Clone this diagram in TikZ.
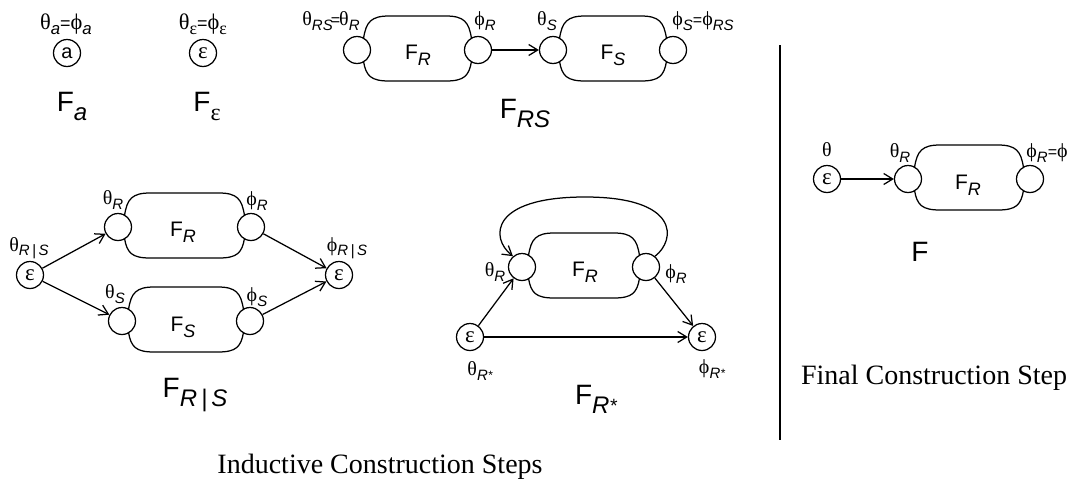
\documentclass[tikz,border=0pt]{standalone}
\usepackage{fontspec}
\setmainfont{Liberation Sans}
\newfontfamily\grk{Liberation Serif}
\newfontfamily\serif{Liberation Serif}
\usetikzlibrary{arrows.meta}
\newcommand\gk[1]{{\grk\fontsize{20}{22}\selectfont #1}}
\newcommand\sbs[1]{\raisebox{-4.5pt}{\fontsize{15}{17}\selectfont\itshape #1}}
\newcommand\sbg[1]{\raisebox{-4.5pt}{\grk\fontsize{16}{17}\selectfont #1}}
\newcommand\eqs{{\fontsize{16}{16}\selectfont =}}
\newcommand\capF[1]{{\fontsize{28}{30}\selectfont F\raisebox{-9pt}{\fontsize{24}{26}\selectfont\itshape #1}}}
\newcommand\blobF[1]{{\fontsize{21}{22}\selectfont F\raisebox{-6pt}{\fontsize{18}{20}\selectfont\itshape #1}}}
\newcommand\rstar{R\raisebox{1pt}{\scalebox{0.8}{*}}}
\newcommand\blob[3]{%
  \draw[ln] ({#1+6.5},{#3-11.3}) .. controls ({#1+9},{#3-28}) and ({#1+14},{#3-34}) .. ({#1+32},{#3-34})
    -- ({#2-32},{#3-34}) .. controls ({#2-14},{#3-34}) and ({#2-9},{#3-28}) .. ({#2-6.5},{#3-11.3});
  \draw[ln] ({#1+6.5},{#3+11.3}) .. controls ({#1+9},{#3+26}) and ({#1+14},{#3+31}) .. ({#1+32},{#3+31})
    -- ({#2-32},{#3+31}) .. controls ({#2-14},{#3+31}) and ({#2-9},{#3+26}) .. ({#2-6.5},{#3+11.3});
}
\tikzset{
  ln/.style={line width=1.25pt},
  st/.style={circle, draw, line width=1.25pt, minimum size=27pt, inner sep=0pt},
  arr/.style={ln, -{Straight Barb[length=9pt,width=11pt]}},
  lbl/.style={inner sep=0pt},
  eps/.style={font=\grk\fontsize{23}{23}\selectfont},
  captext/.style={inner sep=0pt, font=\serif\fontsize{28}{30}\selectfont},
}
\begin{document}
\begin{tikzpicture}[x=1pt,y=-1pt]
\useasboundingbox (0,0) rectangle (1075,493);

% F_a
\node[st] (A) at (67,53) {\fontsize{20}{20}\selectfont a};
\node[lbl, scale=1.12] (lA) at (66,24) {\gk{θ}\sbs{a}\eqs\gk{ϕ}\sbs{a}};
\node[lbl] (cA) at (72,106) {\capF{a}};

% F_eps
\node[st,eps] (B) at (203,53) {ε};
\node[lbl, scale=1.12] (lB) at (203,24) {\gk{θ}\sbg{ε}\eqs\gk{ϕ}\sbg{ε}};
\node[lbl] (cB) at (207,106) {{\fontsize{28}{30}\selectfont F\raisebox{-9pt}{\grk\fontsize{24}{26}\selectfont ε}}};

% F_RS
\node[st] (TR1) at (357,50) {};
\node[st] (PR1) at (478,50) {};
\node[st] (TS1) at (553,50) {};
\node[st] (PS1) at (673,50) {};
\blob{357}{478}{50}
\blob{553}{673}{50}
\node[lbl] (fR1) at (418,55) {\blobF{R}};
\node[lbl] (fS1) at (613,55) {\blobF{S}};
\node[lbl] (l1) at (331,21) {\gk{θ}\sbs{RS}\kern-2pt\eqs\kern-1pt\gk{θ}\sbs{R}};
\node[lbl] (l2) at (485,21) {\gk{ϕ}\sbs{R}};
\node[lbl] (l3) at (547,21) {\gk{θ}\sbs{S}};
\node[lbl] (l4) at (703,21) {\gk{ϕ}\sbs{S}\eqs\gk{ϕ}\sbs{RS}};
\draw[arr] (PR1) -- (TS1);
\node[lbl] (cRS) at (525,113) {\capF{RS}};

% F_R|S
\node[st,eps] (E1) at (30,275) {ε};
\node[st] (TR2) at (118,227) {};
\node[st] (PR2) at (251,227) {};
\node[st] (TS2) at (122,321) {};
\node[st] (PS2) at (250,321) {};
\node[st,eps] (E2) at (339,275) {ε};
\blob{118}{251}{227}
\blob{122}{250}{321}
\node[lbl] (fR2) at (183,232) {\blobF{R}};
\node[lbl] (fS2) at (183,327) {\blobF{S}};
\node[lbl] (m1) at (113,200) {\gk{θ}\sbs{R}};
\node[lbl] (m2) at (257,201) {\gk{ϕ}\sbs{R}};
\node[lbl] (m3) at (29,248) {\gk{θ}\sbs{R\,|\,S}};
\node[lbl] (m4) at (347,248) {\gk{ϕ}\sbs{R\,|\,S}};
\node[lbl] (m5) at (115,294) {\gk{θ}\sbs{S}};
\node[lbl] (m6) at (257,297) {\gk{ϕ}\sbs{S}};
\draw[arr] (E1) -- (TR2);
\draw[arr] (E1) -- (TS2);
\draw[arr] (PR2) -- (E2);
\draw[arr] (PS2) -- (E2);
\node[lbl] (cRS2) at (195,395) {\capF{R\,|\,S}};

% F_R*
\node[st] (TR3) at (522,267) {};
\node[st] (PR3) at (646,267) {};
\node[st,eps] (E3) at (470,337) {ε};
\node[st,eps] (E4) at (702,337) {ε};
\blob{522}{646}{267}
\node[lbl] (fR3) at (585,272) {\blobF{R}};
\node[lbl] (n1) at (495,272) {\gk{θ}\sbs{R}};
\node[lbl] (n2) at (676,274) {\gk{ϕ}\sbs{R}};
\node[lbl] (n3) at (480,371) {\gk{θ}\sbs{\rstar}};
\node[lbl] (n4) at (712,369) {\gk{ϕ}\sbs{\rstar}};
\draw[arr] (E3) -- (TR3);
\draw[arr] (PR3) -- (E4);
\draw[arr] (E3) -- (E4);
\draw[arr] (PR3.50) .. controls (676,240) and (680,197) .. (585,197)
  .. controls (490,197) and (490,238) .. (TR3.130);
\node[lbl] (cR3) at (596,399) {\capF{\rstar}};

% divider
\coordinate (d1) at (780,45);
\coordinate (d2) at (780,440);
\draw[ln] (d1) -- (d2);

% Final
\node[st,eps] (E5) at (827,179) {ε};
\node[st] (TR4) at (908,179) {};
\node[st] (PR4) at (1030,179) {};
\blob{908}{1030}{179}
\node[lbl] (fR4) at (968,185) {\blobF{R}};
\node[lbl] (o1) at (827,150) {\gk{θ}};
\node[lbl] (o2) at (900,153) {\gk{θ}\sbs{R}};
\node[lbl] (o3) at (1047,153) {\gk{ϕ}\sbs{R}\eqs\gk{ϕ}};
\draw[arr] (E5) -- (TR4);
\node[lbl] (cF) at (920,252) {{\fontsize{28}{30}\selectfont F}};

\node[captext] (t1) at (934,378) {Final Construction Step};
\node[captext] (t2) at (380,467) {Inductive Construction Steps};
\end{tikzpicture}
\end{document}
